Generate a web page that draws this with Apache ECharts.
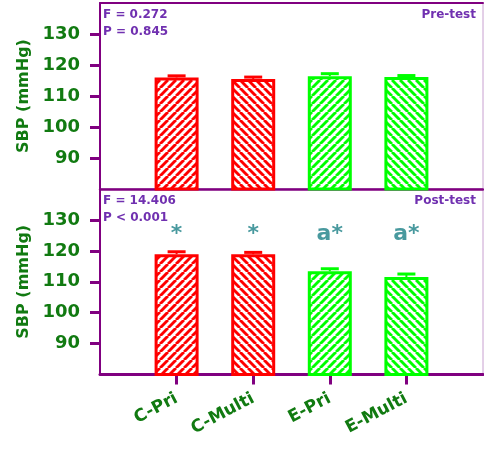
<!DOCTYPE html>
<html><head><meta charset="utf-8">
<script src="https://cdn.jsdelivr.net/npm/echarts@6/dist/echarts.min.js"></script>
<style>html,body{margin:0;padding:0;background:#fff}#c{width:484px;height:452px}</style>
</head><body><div id="c"></div>
<script>
const categories = ['C-Pri', 'C-Multi', 'E-Pri', 'E-Multi'];
const preMean = [116.0, 115.5, 116.4, 116.1];
const preErr = [0.5, 0.6, 0.8, 0.5];
const postMean = [118.9, 118.9, 113.4, 111.5];
const postErr = [0.8, 0.6, 0.8, 1.0];
const postSig = ['*', '*', 'a*', 'a*'];
const yTicks = [90, 100, 110, 120, 130];
const barColors = ['#ff0000', '#ff0000', '#00ff00', '#00ff00'];
const hatchDir = ['/', '\\', '/', '\\'];
const preStats = 'F = 0.272\nP = 0.845';
const postStats = 'F = 14.406\nP < 0.001';

const FONT = 'DejaVu Sans';
const PURPLE = '#800080';
const GREEN = '#117a11';
const TXT = '#7030b0';
const TEAL = '#1a7f86';

function makeHatch(color, dir) {
  const s = 8;
  const cv = document.createElement('canvas');
  cv.width = s; cv.height = s;
  const ctx = cv.getContext('2d');
  ctx.fillStyle = '#fff'; ctx.fillRect(0, 0, s, s);
  ctx.strokeStyle = color; ctx.lineWidth = 2.9;
  for (let k = -1; k <= 1; k++) {
    ctx.beginPath();
    if (dir === '/') { ctx.moveTo(k * s, s); ctx.lineTo(k * s + s, 0); }
    else { ctx.moveTo(k * s, 0); ctx.lineTo(k * s + s, s); }
    ctx.stroke();
  }
  return { image: cv, repeat: 'repeat' };
}

const axisCats = [''].concat(categories, ['']);
const inner = (i) => i >= 1 && i <= categories.length;

function barData(means) {
  return ['-'].concat(means.map((v, i) => ({
    value: v,
    itemStyle: { color: makeHatch(barColors[i], hatchDir[i]), borderColor: barColors[i], borderWidth: 3 }
  })), ['-']);
}
function errData(means, errs) {
  return means.map((v, i) => [i + 1, v, errs[i]]);
}
function renderErr(params, api) {
  const x = api.value(0), m = api.value(1), e = api.value(2);
  const p0 = api.coord([x, m]), p1 = api.coord([x, m + e]);
  const c = barColors[x - 1];
  return { type: 'group', children: [
    { type: 'line', shape: { x1: p0[0], y1: p0[1], x2: p1[0], y2: p1[1] }, style: { stroke: c, lineWidth: 2 } },
    { type: 'line', shape: { x1: p1[0] - 9, y1: p1[1], x2: p1[0] + 9, y2: p1[1] }, style: { stroke: c, lineWidth: 3 } }
  ]};
}

function yAxisCfg(gi) {
  return {
    type: 'value', gridIndex: gi, min: 80, max: 140, interval: 10,
    name: 'SBP (mmHg)', nameLocation: 'middle', nameGap: 66,
    nameTextStyle: { color: GREEN, fontFamily: FONT, fontWeight: 'bold', fontSize: 16 },
    axisLine: { show: true, lineStyle: { color: PURPLE, width: 2 } },
    axisTick: { show: true, length: 10, lineStyle: { color: PURPLE, width: 3 }, customValues: yTicks },
    axisLabel: { color: GREEN, fontFamily: FONT, fontWeight: 'bold', fontSize: 18, margin: 20, customValues: yTicks },
    splitLine: { show: false }
  };
}

const option = {
  backgroundColor: '#fff',
  animation: false,
  title: [
    { text: preStats, left: 103, top: 6, padding: 0, textStyle: { color: TXT, fontFamily: FONT, fontWeight: 'bold', fontSize: 12, lineHeight: 17 } },
    { text: 'Pre-test', right: 8, top: 6, padding: 0, textStyle: { color: TXT, fontFamily: FONT, fontWeight: 'bold', fontSize: 12, lineHeight: 17 } },
    { text: postStats, left: 103, top: 192, padding: 0, textStyle: { color: TXT, fontFamily: FONT, fontWeight: 'bold', fontSize: 12, lineHeight: 17 } },
    { text: 'Post-test', right: 8, top: 192, padding: 0, textStyle: { color: TXT, fontFamily: FONT, fontWeight: 'bold', fontSize: 12, lineHeight: 17 } }
  ],
  grid: [
    { left: 100, right: 1, top: 3, height: 186, show: true, borderColor: '#c8a0d0', borderWidth: 1, backgroundColor: 'transparent', outerBoundsMode: 'none' },
    { left: 100, right: 1, top: 189, height: 185.5, show: true, borderColor: '#c8a0d0', borderWidth: 1, backgroundColor: 'transparent', outerBoundsMode: 'none' }
  ],
  xAxis: [
    { type: 'category', gridIndex: 0, data: axisCats, boundaryGap: false,
      axisLine: { lineStyle: { color: PURPLE, width: 2.5 } }, axisTick: { show: false }, axisLabel: { show: false } },
    { type: 'category', gridIndex: 0, position: 'top', data: axisCats, boundaryGap: false,
      axisLine: { lineStyle: { color: PURPLE, width: 2 } }, axisTick: { show: false }, axisLabel: { show: false } },
    { type: 'category', gridIndex: 1, data: axisCats, boundaryGap: false,
      axisLine: { lineStyle: { color: PURPLE, width: 3 } },
      axisTick: { show: true, length: 10, interval: (i) => inner(i), lineStyle: { color: PURPLE, width: 3 } },
      axisLabel: { interval: (i) => inner(i), rotate: 28, margin: 23, color: GREEN, fontFamily: FONT, fontWeight: 'bold', fontSize: 17 } }
  ],
  yAxis: [yAxisCfg(0), yAxisCfg(1)],
  series: [
    { type: 'bar', xAxisIndex: 0, yAxisIndex: 0, barWidth: 44, data: barData(preMean), z: 2 },
    { type: 'custom', xAxisIndex: 0, yAxisIndex: 0, renderItem: renderErr, data: errData(preMean, preErr), encode: { x: 0, y: 1 }, z: 3 },
    { type: 'bar', xAxisIndex: 2, yAxisIndex: 1, barWidth: 44, data: barData(postMean), z: 2 },
    { type: 'custom', xAxisIndex: 2, yAxisIndex: 1, renderItem: renderErr, data: errData(postMean, postErr), encode: { x: 0, y: 1 }, z: 3 },
    { type: 'scatter', xAxisIndex: 2, yAxisIndex: 1, symbolSize: 1, itemStyle: { color: 'rgba(0,0,0,0)' },
      data: postSig.map((s, i) => [i + 1, 121.5]),
      label: { show: true, position: 'top', distance: 0, formatter: (p) => postSig[p.dataIndex], color: TEAL, fontFamily: FONT, fontWeight: 'bold', fontSize: 22 },
      silent: true, z: 4 }
  ]
};
const chart = echarts.init(document.getElementById('c'), null, { renderer: 'canvas' });
chart.setOption(option);
</script></body></html>
